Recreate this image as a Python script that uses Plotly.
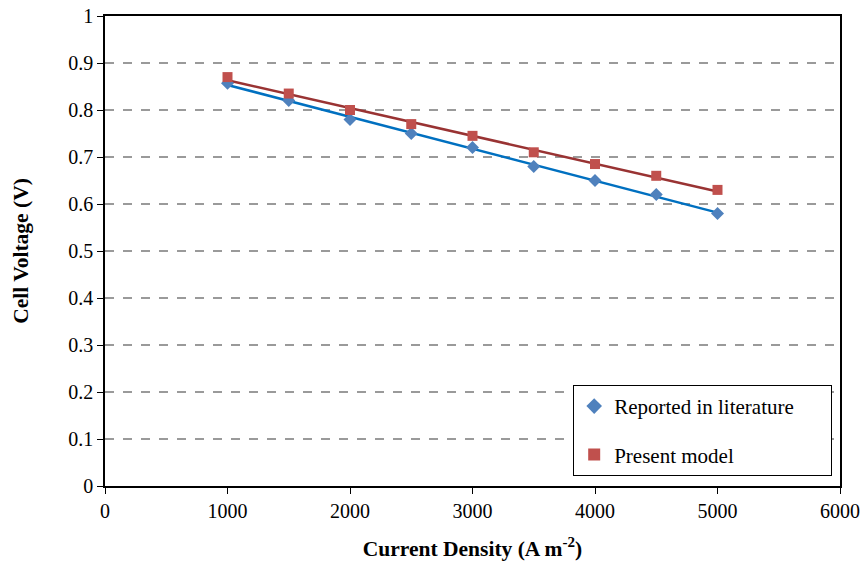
import numpy as np
import plotly.graph_objects as go

current_density = [1000, 1500, 2000, 2500, 3000, 3500, 4000, 4500, 5000]
reported = [0.857, 0.820, 0.780, 0.750, 0.720, 0.680, 0.650, 0.620, 0.580]
present = [0.870, 0.835, 0.800, 0.770, 0.745, 0.710, 0.685, 0.660, 0.630]
series_names = ["Reported in literature", "Present model"]

x = np.array(current_density, dtype=float)
fit_r = np.polyval(np.polyfit(x, reported, 1), x)
fit_p = np.polyval(np.polyfit(x, present, 1), x)

font = "Liberation Serif"
pad = "\u00a0" * 6
fig = go.Figure()
fig.add_trace(go.Scatter(x=current_density, y=fit_r, mode="lines",
                         line=dict(color="#0070C0", width=2.5), showlegend=False, hoverinfo="skip"))
fig.add_trace(go.Scatter(x=current_density, y=fit_p, mode="lines",
                         line=dict(color="#993333", width=2.5), showlegend=False, hoverinfo="skip"))
fig.add_trace(go.Scatter(x=current_density, y=reported, mode="markers", name=series_names[0] + pad,
                         legendgroup="a",
                         marker=dict(symbol="diamond", size=10, color="#4F81BD")))
fig.add_trace(go.Scatter(x=current_density, y=present, mode="markers", name=series_names[1],
                         legendgroup="b",
                         marker=dict(symbol="square", size=10, color="#C0504D")))

fig.update_layout(
    width=863, height=564,
    margin=dict(l=105, r=23, t=16, b=78, autoexpand=False),
    plot_bgcolor="white", paper_bgcolor="white",
    font=dict(family=font, size=20, color="black"),
    showlegend=True,
    legend=dict(x=0.637, y=0.215, xanchor="left", yanchor="top",
                bordercolor="black", borderwidth=1, bgcolor="white",
                font=dict(family=font, size=21), tracegroupgap=18,
                itemsizing="constant"),
    xaxis=dict(range=[0, 6000], dtick=1000, showgrid=False, zeroline=False, automargin=False,
               showline=True, linecolor="black", linewidth=1.5, mirror=True,
               ticks="outside", ticklen=6, tickcolor="black", ticklabeloverflow="allow",
               title=dict(text="<b>Current Density (A m<sup>-2</sup>)</b>", standoff=20,
                          font=dict(family=font, size=21.5))),
    yaxis=dict(range=[0, 1], dtick=0.1, showgrid=True, gridcolor="#9a9a9a", griddash="dash",
               gridwidth=1.5, zeroline=False, automargin=False,
               showline=True, linecolor="black", linewidth=1.5, mirror=True,
               ticks="outside", ticklen=6, tickcolor="black", ticklabeloverflow="allow",
               title=dict(text="<b>Cell Voltage (V)</b>", standoff=34,
                          font=dict(family=font, size=21.5))),
)
fig.write_html("out.html", config={"displayModeBar": False},
               post_script="document.body.style.margin='0';document.body.style.overflow='hidden';")
